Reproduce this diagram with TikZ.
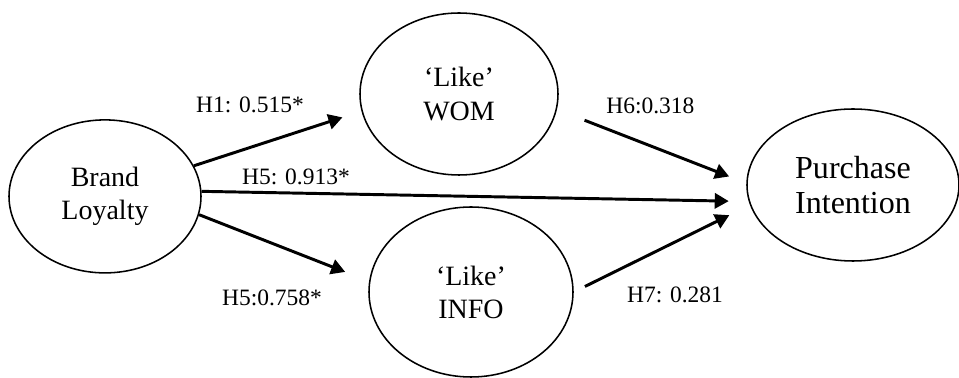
\documentclass[tikz,border=0pt]{standalone}
\usepackage{fontspec}
\setmainfont{Liberation Serif}
\usepackage{tikz}
\usetikzlibrary{shapes.geometric, arrows.meta}
\tikzstyle{construct} = [ellipse, inner sep=0pt, align=center, draw=black, line width=1.1pt, font=\fontsize{19.9}{23.5}\selectfont]
\tikzstyle{coef} = [anchor=base, inner sep=0pt, font=\fontsize{16.7}{20}\selectfont]
\tikzstyle{arrow} = [line width=2.1pt, -{Triangle[length=0.35cm, width=0.38cm]}]

\begin{document}
\begin{tikzpicture}
    \useasboundingbox (0,0) rectangle (23.975,-9.45);
    \node (brand) [construct, minimum width=4.8cm, minimum height=3.825cm] at (2.625,-4.91) {Brand\\Loyalty};
    \node (wom) [construct, minimum width=4.95cm, minimum height=4.05cm] at (11.475,-2.35) {`Like'\\WOM};
    \node (info) [construct, minimum width=5.1cm, minimum height=4.25cm] at (11.775,-7.3) {`Like'\\INFO};
    \node (purchase) [construct, minimum width=5.3cm, minimum height=3.8cm, font=\fontsize{22.8}{24.9}\selectfont] at (21.325,-4.625) {Purchase\\Intention};

    \node (h1) [coef] at (6.25,-2.825) {H1: 0.515*};
    \node (h5a) [coef] at (7.4,-4.625) {H5: 0.913*};
    \node (h5b) [coef] at (6.8,-7.65) {H5:0.758*};
    \node (h6) [coef] at (16.26,-2.85) {H6:0.318};
    \node (h7) [coef] at (16.875,-7.575) {H7: 0.281};

    \draw [arrow, shorten >=0.5cm] (brand.19) -- (wom.190);
    \draw [arrow, shorten >=0.5cm] (brand.3) -- (purchase.189);
    \draw [arrow, shorten >=0.64cm] (brand.349) -- (info.174);
    \draw [arrow, shorten <=0.74cm, shorten >=0.46cm] (wom.351) -- (purchase.179);
    \draw [arrow, shorten <=0.31cm, shorten >=0.575cm] (info.0) -- (purchase.191);
\end{tikzpicture}
\end{document}
